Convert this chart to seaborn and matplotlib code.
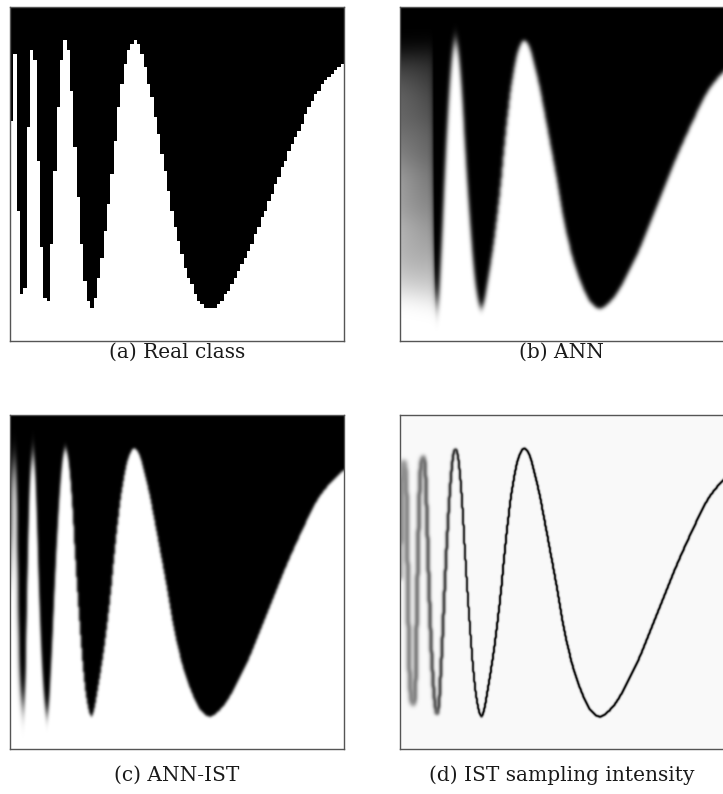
import numpy as np
import pandas as pd
import matplotlib
matplotlib.use("Agg")
import matplotlib.pyplot as plt
import seaborn as sns

# Decision boundary of the true class: horizontal position (0..1) and height (0..1)
boundary_u = [0.000, 0.003, 0.006, 0.009, 0.012, 0.015, 0.019, 0.024, 0.029, 0.035,
              0.040, 0.045, 0.049, 0.055, 0.061, 0.067, 0.071, 0.075, 0.080, 0.086,
              0.093, 0.100, 0.106, 0.111, 0.116, 0.121, 0.127, 0.134, 0.142, 0.150,
              0.157, 0.163, 0.167, 0.172, 0.178, 0.186, 0.194, 0.204, 0.212, 0.220,
              0.228, 0.236, 0.244, 0.252, 0.262, 0.272, 0.283, 0.293, 0.303, 0.313,
              0.323, 0.333, 0.343, 0.352, 0.361, 0.368, 0.374, 0.381, 0.390, 0.403,
              0.416, 0.428, 0.440, 0.453, 0.466, 0.478, 0.490, 0.503, 0.518, 0.533,
              0.548, 0.563, 0.578, 0.590, 0.600, 0.612, 0.625, 0.640, 0.663, 0.688,
              0.713, 0.738, 0.762, 0.790, 0.822, 0.848, 0.872, 0.897, 0.922, 0.947,
              0.972, 1.000]
boundary_v = [0.500, 0.520, 0.740, 0.850, 0.866, 0.855, 0.780, 0.450, 0.220, 0.140,
              0.130, 0.160, 0.350, 0.640, 0.830, 0.875, 0.877, 0.840, 0.710, 0.510,
              0.320, 0.190, 0.125, 0.102, 0.130, 0.210, 0.330, 0.490, 0.650, 0.780,
              0.860, 0.895, 0.898, 0.885, 0.840, 0.740, 0.600, 0.440, 0.330, 0.230,
              0.160, 0.115, 0.097, 0.118, 0.175, 0.235, 0.310, 0.390, 0.480, 0.585,
              0.680, 0.760, 0.820, 0.862, 0.888, 0.898, 0.900, 0.893, 0.873, 0.825,
              0.770, 0.710, 0.645, 0.575, 0.505, 0.435, 0.365, 0.305, 0.245, 0.198,
              0.160, 0.128, 0.108, 0.099, 0.097, 0.102, 0.113, 0.130, 0.165, 0.215,
              0.265, 0.325, 0.385, 0.455, 0.535, 0.595, 0.648, 0.700, 0.748, 0.782,
              0.808, 0.836]

captions = ["(a) Real class", "(b) ANN", "(c) ANN-IST", "(d) IST sampling intensity"]

W_PX, H_PX = 723, 794
N_FINE = 334      # cells per side for the smooth maps
N_COARSE = 100    # cells per side for the true-class map


def pchip(x, y, xn):
    """Shape-preserving piecewise cubic through the boundary points."""
    x = np.asarray(x, float)
    y = np.asarray(y, float)
    h = np.diff(x)
    delta = np.diff(y) / h
    d = np.zeros_like(y)
    for k in range(1, len(x) - 1):
        if delta[k - 1] * delta[k] > 0:
            w1 = 2 * h[k] + h[k - 1]
            w2 = h[k] + 2 * h[k - 1]
            d[k] = (w1 + w2) / (w1 / delta[k - 1] + w2 / delta[k])
    d[0], d[-1] = delta[0], delta[-1]
    i = np.clip(np.searchsorted(x, xn) - 1, 0, len(h) - 1)
    t = (xn - x[i]) / h[i]
    h00 = 2 * t**3 - 3 * t**2 + 1
    h10 = t**3 - 2 * t**2 + t
    h01 = -2 * t**3 + 3 * t**2
    h11 = t**3 - t**2
    return h00 * y[i] + h10 * h[i] * d[i] + h01 * y[i + 1] + h11 * h[i] * d[i + 1]


def class_field(n):
    """1 where the point lies above the boundary (black class), else 0."""
    u = (np.arange(n) + 0.5) / n
    v = 1.0 - (np.arange(n) + 0.5) / n
    b = pchip(boundary_u, boundary_v, u)
    return (v[:, None] > b[None, :]).astype(float)


def kernel_matrix(n, sigmas):
    idx = np.arange(n)
    d = idx[None, :] - idx[:, None]
    k = np.exp(-0.5 * (d / np.asarray(sigmas, float)[:, None]) ** 2)
    return k / k.sum(axis=1, keepdims=True)


def smooth(field, sig_x, sig_y):
    """Gaussian smoothing whose width changes from column to column."""
    n = field.shape[1]
    out = np.empty_like(field)
    cache = {}
    for j in range(n):
        s = round(float(sig_y[j]), 1)
        if s not in cache:
            cache[s] = kernel_matrix(field.shape[0], np.full(field.shape[0], s))
        out[:, j] = cache[s] @ field[:, j]
    kx = kernel_matrix(n, sig_x)
    return out @ kx.T


def ramp(u, start, stop):
    return np.clip((start - u) / (start - stop), 0, 1)


u_fine = (np.arange(N_FINE) + 0.5) / N_FINE
fine = class_field(N_FINE)

# (a) true class on a coarse grid
real = class_field(N_COARSE)

# (b) network output: soft edges, washed-out on the fast oscillations
sx_b = 2.0 + 12.0 * ramp(u_fine, 0.105, 0.08)
sy_b = 2.0 + 9.0 * ramp(u_fine, 0.28, 0.10)
ann = smooth(fine, sx_b, sy_b)

# (c) network trained with IST: sharp edges, slight fade at the tips
sx_c = 1.4 + 1.0 * ramp(u_fine, 0.05, 0.0)
sy_c = 1.4 + 12.0 * ramp(u_fine, 0.20, 0.03)
ann_ist = smooth(fine, sx_c, sy_c)

# (d) sampling intensity concentrated along the boundary
sd = 1.1 + 1.4 * ramp(u_fine, 0.20, 0.03)
b_d = smooth(fine, sd, sd)
amp = 0.9 - 0.48 * ramp(u_fine, 0.25, 0.03)
intensity = 0.025 + amp[None, :] * (4.0 * b_d * (1.0 - b_d))

maps = [real, ann, ann_ist, intensity]

sns.set_theme(style="white")
fig = plt.figure(figsize=(W_PX / 100, H_PX / 100), dpi=100)
fig.patch.set_facecolor("white")

boxes = [(10, 7), (400, 7), (10, 415), (400, 415)]   # left, top in pixels
size = 334
cap_pos = [(177, 352), (561.5, 352), (177, 775), (561.5, 775)]

for grid, (lx, ty), cap, (cx, cy) in zip(maps, boxes, captions, cap_pos):
    ax = fig.add_axes([lx / W_PX, 1 - (ty + size) / H_PX, size / W_PX, size / H_PX])
    sns.heatmap(pd.DataFrame(grid), cmap="gray_r", vmin=0, vmax=1, cbar=False,
                xticklabels=False, yticklabels=False, ax=ax, rasterized=True)
    ax.set_xlabel("")
    ax.set_ylabel("")
    for sp in ax.spines.values():
        sp.set_visible(True)
        sp.set_color("#555555")
        sp.set_linewidth(1.0)
    fig.text(cx / W_PX, 1 - cy / H_PX, cap, ha="center", va="center",
             family="DejaVu Serif", fontsize=14.5, color="#1a1a1a")

fig.savefig("out.png", dpi=100)
